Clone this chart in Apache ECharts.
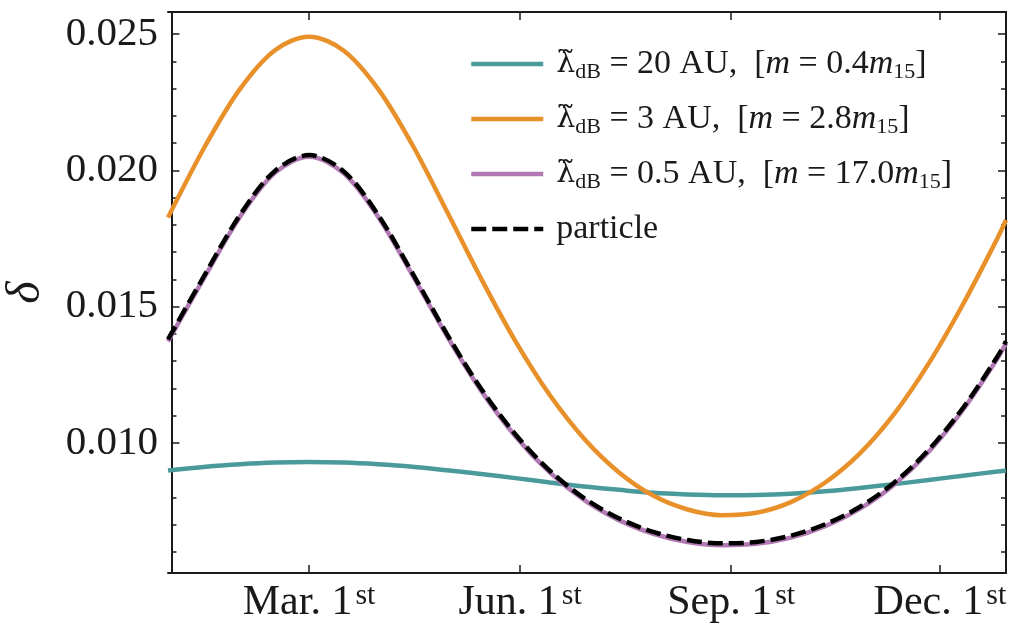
<!DOCTYPE html>
<html>
<head>
<meta charset="utf-8">
<script src="https://cdn.jsdelivr.net/npm/echarts@6/dist/echarts.min.js"></script>
<style>
  html, body { margin: 0; padding: 0; background: #fff; }
  #main { width: 1009px; height: 624px; }
</style>
</head>
<body>
<div id="main"></div>
<script>
// day of year (0 = Jan 1st)
var days = [-1.5, 15, 30, 45, 60, 75, 90, 105, 120, 135, 150, 165, 180, 195,
  210, 225, 240, 255, 270, 285, 300, 315, 330, 345, 360, 363.8];

var lambda20 = [0.00899, 0.00913, 0.00922, 0.00928, 0.00930, 0.00928, 0.00922, 0.00913,
  0.00900, 0.00886, 0.00871, 0.00855, 0.00840, 0.00828, 0.00817, 0.00811, 0.00808, 0.00809,
  0.00814, 0.00823, 0.00835, 0.00849, 0.00864, 0.00880, 0.00895, 0.00899];
var lambda3 = [0.01827, 0.02094, 0.02300, 0.02440, 0.02490, 0.02440, 0.02300, 0.02094,
  0.01851, 0.01603, 0.01373, 0.01175, 0.01015, 0.00893, 0.00807, 0.00756, 0.00735, 0.00744,
  0.00783, 0.00855, 0.00961, 0.01106, 0.01290, 0.01508, 0.01750, 0.01818];
var lambda05 = [0.01373, 0.01617, 0.01831, 0.01990, 0.02050, 0.01990, 0.01831, 0.01617,
  0.01394, 0.01192, 0.01024, 0.00891, 0.00790, 0.00717, 0.00667, 0.00637, 0.00625, 0.00630,
  0.00653, 0.00695, 0.00758, 0.00847, 0.00967, 0.01121, 0.01309, 0.01366];
var particle = [0.01380, 0.01624, 0.01838, 0.01997, 0.02056, 0.01997, 0.01838, 0.01624,
  0.01401, 0.01199, 0.01031, 0.00898, 0.00797, 0.00724, 0.00674, 0.00644, 0.00632, 0.00637,
  0.00660, 0.00702, 0.00765, 0.00854, 0.00974, 0.01128, 0.01316, 0.01373];

var xTicks = [60, 152, 244, 335];
var xTickLabels = ['Mar. 1', 'Jun. 1', 'Sep. 1', 'Dec. 1'];
var yTicks = [0.010, 0.015, 0.020, 0.025];
var yMinorTicks = [0.006, 0.007, 0.008, 0.009, 0.011, 0.012, 0.013, 0.014, 0.016, 0.017,
  0.018, 0.019, 0.021, 0.022, 0.023, 0.024];

var names = ['lambda20', 'lambda3', 'lambda05', 'particle'];
var legendText = {
  lambda20: '{l|λ\u0303}{s|dB}{t| = 20 AU,  [}{i|m}{t| = 0.4}{i|m}{s|15}{t|]}',
  lambda3: '{l|λ\u0303}{s|dB}{t| = 3 AU,  [}{i|m}{t| = 2.8}{i|m}{s|15}{t|]}',
  lambda05: '{l|λ\u0303}{s|dB}{t| = 0.5 AU,  [}{i|m}{t| = 17.0}{i|m}{s|15}{t|]}',
  particle: '{t|particle}'
};

var FONT = '"Liberation Serif", "DejaVu Serif", serif';
var INK = '#1a1a1a';

function pairs(vals) {
  return days.map(function (d, i) { return [d, vals[i]]; });
}

var xMin = -1.5, xMax = 363.8, yMin = 0.00523, yMax = 0.02581;

var tickStyle = { color: INK, width: 1.5 };
var axisLine = { show: true, lineStyle: { color: INK, width: 2 } };

function lineSeries(name, vals, color, dash) {
  return {
    name: name, type: 'line', data: pairs(vals),
    smooth: 0.33, smoothConstraint: false, symbol: 'none',
    lineStyle: { color: color, width: 4.5, type: dash || 'solid' },
    itemStyle: { color: color }
  };
}

var chart = echarts.init(document.getElementById('main'));
chart.setOption({
  animation: false,
  backgroundColor: '#fff',
  grid: { left: 168, right: 3, top: 12, bottom: 51, containLabel: false, outerBoundsMode: 'none' },
  legend: {
    data: names,
    orient: 'vertical',
    left: 469,
    top: 47,
    padding: 0,
    itemWidth: 72,
    itemHeight: 14,
    itemGap: 19,
    itemStyle: { opacity: 0 },
    lineStyle: { width: 4.5 },
    formatter: function (n) { return legendText[n]; },
    textStyle: {
      padding: [0, 0, 0, 8],
      rich: {
        l: { fontFamily: '"DejaVu Serif", serif', fontSize: 30, lineHeight: 38, color: INK, verticalAlign: 'middle' },
        t: { fontFamily: FONT, fontSize: 34, lineHeight: 38, color: INK, verticalAlign: 'middle' },
        i: { fontFamily: FONT, fontSize: 34, lineHeight: 38, color: INK, fontStyle: 'italic', verticalAlign: 'middle' },
        s: { fontFamily: FONT, fontSize: 22, lineHeight: 22, color: INK, verticalAlign: 'bottom' }
      }
    }
  },
  xAxis: [{
    type: 'value', min: xMin, max: xMax, position: 'bottom',
    axisLine: axisLine,
    splitLine: { show: false },
    axisTick: { show: true, inside: true, length: 8, customValues: xTicks, lineStyle: tickStyle },
    axisLabel: {
      customValues: xTicks,
      margin: 8,
      formatter: function (v) {
        var k = xTicks.indexOf(v);
        return '{a|' + xTickLabels[k] + '}{s|st}';
      },
      rich: {
        a: { fontFamily: FONT, fontSize: 42, lineHeight: 44, color: INK, verticalAlign: 'middle' },
        s: { fontFamily: FONT, fontSize: 30, lineHeight: 26, color: INK, verticalAlign: 'top', padding: [0, 0, 0, 3] }
      }
    }
  }, {
    type: 'value', min: xMin, max: xMax, position: 'top',
    axisLine: axisLine,
    splitLine: { show: false },
    axisTick: { show: true, inside: true, length: 8, customValues: xTicks, lineStyle: tickStyle },
    axisLabel: { show: false }
  }],
  yAxis: [{
    type: 'value', min: yMin, max: yMax, position: 'left',
    name: 'δ',
    nameLocation: 'middle',
    nameRotate: 90,
    nameGap: 118,
    nameTextStyle: { fontFamily: FONT, fontSize: 48, fontStyle: 'italic', color: INK },
    axisLine: axisLine,
    splitLine: { show: false },
    axisTick: { show: true, inside: true, length: 8, customValues: yTicks, lineStyle: tickStyle },
    axisLabel: {
      customValues: yTicks,
      margin: 10,
      formatter: function (v) { return v.toFixed(3); },
      fontFamily: FONT, fontSize: 41, color: INK
    }
  }, {
    type: 'value', min: yMin, max: yMax, position: 'left',
    axisLine: { show: false },
    splitLine: { show: false },
    axisTick: { show: true, inside: true, length: 5, customValues: yMinorTicks, lineStyle: tickStyle },
    axisLabel: { show: false }
  }, {
    type: 'value', min: yMin, max: yMax, position: 'right',
    axisLine: axisLine,
    splitLine: { show: false },
    axisTick: { show: true, inside: true, length: 8, customValues: yTicks, lineStyle: tickStyle },
    axisLabel: { show: false }
  }, {
    type: 'value', min: yMin, max: yMax, position: 'right',
    axisLine: { show: false },
    splitLine: { show: false },
    axisTick: { show: true, inside: true, length: 5, customValues: yMinorTicks, lineStyle: tickStyle },
    axisLabel: { show: false }
  }],
  series: [
    lineSeries('lambda20', lambda20, '#4a9a9c'),
    lineSeries('lambda3', lambda3, '#e8912a'),
    lineSeries('lambda05', lambda05, '#b27ab4'),
    lineSeries('particle', particle, '#000', [15, 6])
  ]
});
</script>
</body>
</html>
